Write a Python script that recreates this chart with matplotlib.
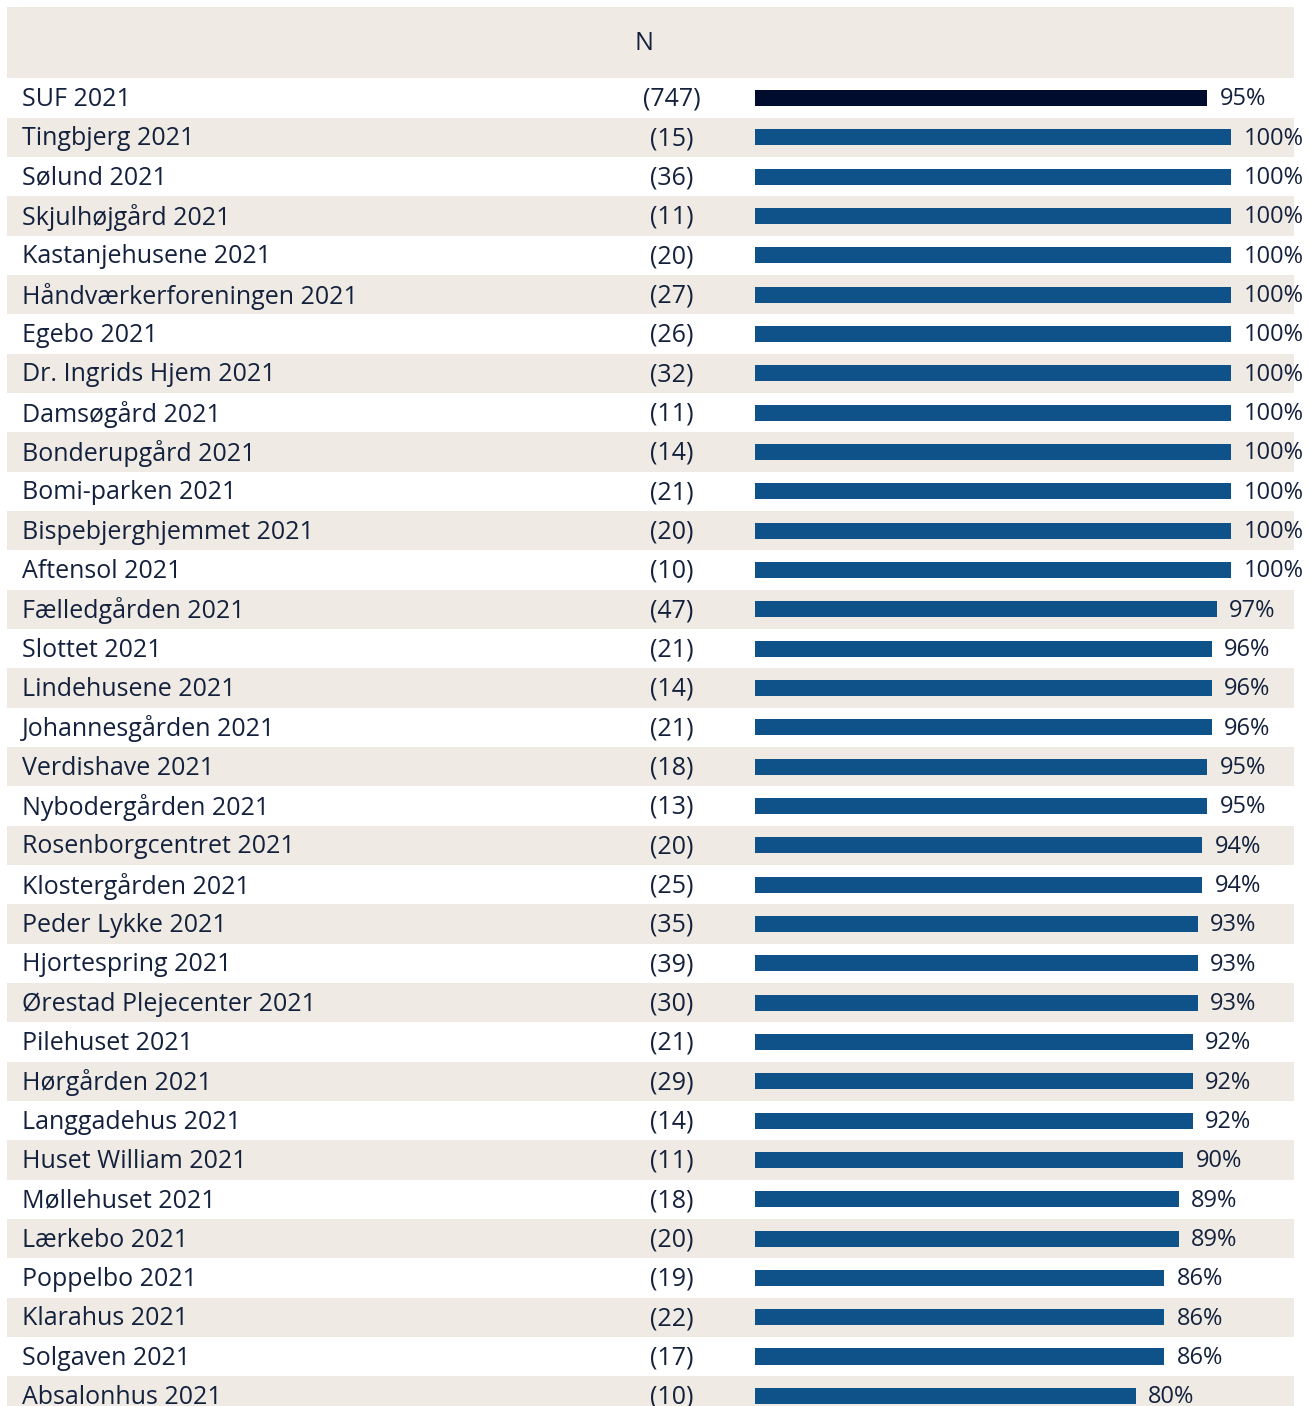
import matplotlib
matplotlib.use("Agg")
import matplotlib.pyplot as plt

names = ["SUF 2021", "Tingbjerg 2021", "Sølund 2021", "Skjulhøjgård 2021", "Kastanjehusene 2021",
         "Håndværkerforeningen 2021", "Egebo 2021", "Dr. Ingrids Hjem 2021", "Damsøgård 2021",
         "Bonderupgård 2021", "Bomi-parken 2021", "Bispebjerghjemmet 2021", "Aftensol 2021",
         "Fælledgården 2021", "Slottet 2021", "Lindehusene 2021", "Johannesgården 2021",
         "Verdishave 2021", "Nybodergården 2021", "Rosenborgcentret 2021", "Klostergården 2021",
         "Peder Lykke 2021", "Hjortespring 2021", "Ørestad Plejecenter 2021", "Pilehuset 2021",
         "Hørgården 2021", "Langgadehus 2021", "Huset William 2021", "Møllehuset 2021",
         "Lærkebo 2021", "Poppelbo 2021", "Klarahus 2021", "Solgaven 2021", "Absalonhus 2021"]
n_values = [747, 15, 36, 11, 20, 27, 26, 32, 11, 14, 21, 20, 10, 47, 21, 14, 21, 18, 13, 20,
            25, 35, 39, 30, 21, 29, 14, 11, 18, 20, 19, 22, 17, 10]
percent = [95, 100, 100, 100, 100, 100, 100, 100, 100, 100, 100, 100, 100, 97, 96, 96, 96,
           95, 95, 94, 94, 93, 93, 93, 92, 92, 92, 90, 89, 89, 86, 86, 86, 80]

beige = "#EFEBE4"
blue = "#0F5289"
navy = "#000C2D"
txt = "#14213D"
plt.rcParams['font.family'] = ['Open Sans', 'DejaVu Sans']
fs = 18

W, H = 1310, 1406
pitch = 39.33
y_top = -98 / pitch
y_bot = (H - 98) / pitch
dy = 1.5 / pitch  # text sits a touch below the bar centre

fig = plt.figure(figsize=(W / 100, H / 100), dpi=100)
bg = fig.add_axes([0, 0, 1, 1])
bg.set_xlim(0, W)
bg.set_ylim(y_bot, y_top)
bg.axis("off")

# header band
bg.axhspan(-0.5 - 71 / pitch, -0.5, xmin=7 / W, xmax=1294 / W, color=beige, lw=0)
bg.text(644, -0.5 - 35 / pitch, "N", ha="center", va="center", fontsize=fs, color=txt)

for i, (name, n) in enumerate(zip(names, n_values)):
    if i % 2 == 1:
        bg.axhspan(i - 0.5, i + 0.5, xmin=7 / W, xmax=1294 / W, color=beige, lw=0)
    bg.text(22, i + dy, name, ha="left", va="center", fontsize=fs, color=txt)
    bg.text(672, i + dy, f"({n})", ha="center", va="center", fontsize=fs, color=txt)

ax = fig.add_axes([755 / W, 0, 476 / W, 1])
ax.set_xlim(0, 100)
ax.set_ylim(y_bot, y_top)
ax.axis("off")
colors = [navy] + [blue] * (len(names) - 1)
ax.barh(range(len(names)), percent, height=0.41, color=colors, clip_on=False)
for i, p in enumerate(percent):
    ax.text(p + 2.6, i + dy, f"{p}%", ha="left", va="center", fontsize=17, color=txt, clip_on=False)

fig.savefig("out.png", dpi=100)
